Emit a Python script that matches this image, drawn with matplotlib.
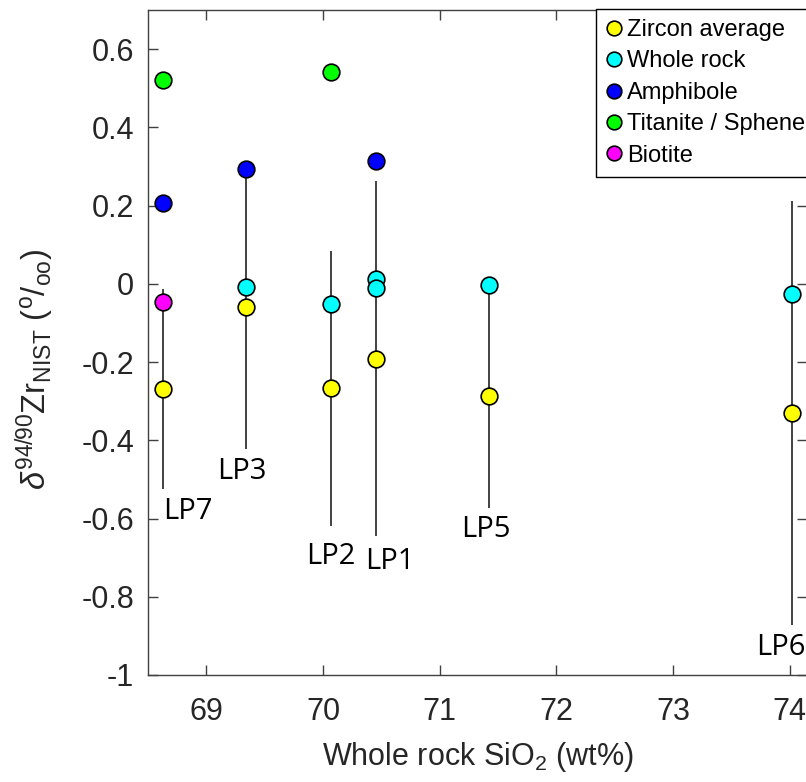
import matplotlib.pyplot as plt

plt.rcParams['font.family'] = ['Liberation Sans', 'DejaVu Sans']
plt.rcParams['mathtext.fontset'] = 'custom'
plt.rcParams['mathtext.rm'] = 'Liberation Sans'
plt.rcParams['mathtext.it'] = 'Liberation Sans:italic'
plt.rcParams['axes.unicode_minus'] = False

# samples, whole rock SiO2 and zircon averages with 2sd
samples = ['LP7', 'LP3', 'LP2', 'LP1', 'LP5', 'LP6']
sio2 = [68.63, 69.34, 70.07, 70.45, 71.42, 74.02]
zircon = [-0.268, -0.058, -0.267, -0.191, -0.287, -0.331]
zircon_err = [0.256, 0.365, 0.352, 0.454, 0.286, 0.542]

# other phases
wr_x = [69.34, 70.07, 70.45, 70.45, 71.42, 74.02]
wr_y = [-0.008, -0.051, 0.012, -0.011, -0.003, -0.025]
amph_x = [68.63, 69.34, 70.45]
amph_y = [0.207, 0.294, 0.315]
tit_x = [68.63, 70.07]
tit_y = [0.520, 0.541]
bio_x = [68.63]
bio_y = [-0.047]

xticks = [69, 70, 71, 72, 73, 74]
yticks = [-1, -0.8, -0.6, -0.4, -0.2, 0, 0.2, 0.4, 0.6]

# label placement (pixels from the bottom of the error bar)
label_pos = {'LP7': (0, -8, 'left'), 'LP3': (-4, -8, 'center'), 'LP2': (0, -16, 'center'),
             'LP1': (14, -11, 'center'), 'LP5': (-3, -7, 'center'), 'LP6': (-11, -8, 'center')}

fig = plt.figure(figsize=(8.06, 7.82), dpi=100)
ax = fig.add_axes([148/806, 107/782, 659/806, 665/782])

ax.errorbar(sio2, zircon, yerr=zircon_err, fmt='none', ecolor='#333333',
            elinewidth=1.3, capsize=0, zorder=1)

mk = dict(marker='o', linestyle='none', ms=12, mec='black', mew=1.2, zorder=3)
ax.plot(sio2, zircon, mfc='#ffff00', label='Zircon average', **mk)
ax.plot(wr_x, wr_y, mfc='#00ffff', label='Whole rock', **mk)
ax.plot(amph_x, amph_y, mfc='#0000ff', label='Amphibole', **mk)
ax.plot(tit_x, tit_y, mfc='#00ff00', label='Titanite / Sphene', **mk)
ax.plot(bio_x, bio_y, mfc='#ff00ff', label='Biotite', **mk)

for s, x, z, e in zip(samples, sio2, zircon, zircon_err):
    dx, dy, ha = label_pos[s]
    ax.annotate(s, (x, z - e), xytext=(dx, dy), textcoords='offset pixels',
                ha=ha, va='top', fontsize=21, family='Open Sans', color='black')

ax.set_xlim(68.5, 74.147)
ax.set_ylim(-1, 0.7)
ax.set_xticks(xticks)
ax.set_xticklabels([f'{v:g}' for v in xticks])
ax.set_yticks(yticks)
ax.set_yticklabels([f'{v:g}' for v in yticks])
ax.tick_params(direction='in', length=7, width=1, top=True, right=True,
               labelsize=22, colors='#404040', labelcolor='#262626', pad=10)
ax.tick_params(axis='x', pad=16)
for sp in ax.spines.values():
    sp.set_color('#404040')
    sp.set_linewidth(1)

ax.set_xlabel(r'Whole rock SiO$_2$ (wt%)', fontsize=22, color='#262626', labelpad=9)
ax.set_ylabel(r'$\delta^{94/90}$Zr$_{\mathrm{NIST}}$ ($^{\mathrm{o}}$/$_{\mathrm{oo}}$)',
              fontsize=23.5, color='#262626')
ax.yaxis.set_label_coords(-0.14, 0.46)

leg = ax.legend(loc='upper left', bbox_to_anchor=(596/806, 773/782),
                bbox_transform=fig.transFigure, borderaxespad=0, fontsize=17,
                markerscale=0.88, handlelength=0.65, handletextpad=0.25,
                labelspacing=0.4, borderpad=0.42, fancybox=False, framealpha=1,
                edgecolor='black')
leg.get_frame().set_linewidth(1)

fig.savefig('out.png', dpi=100)
